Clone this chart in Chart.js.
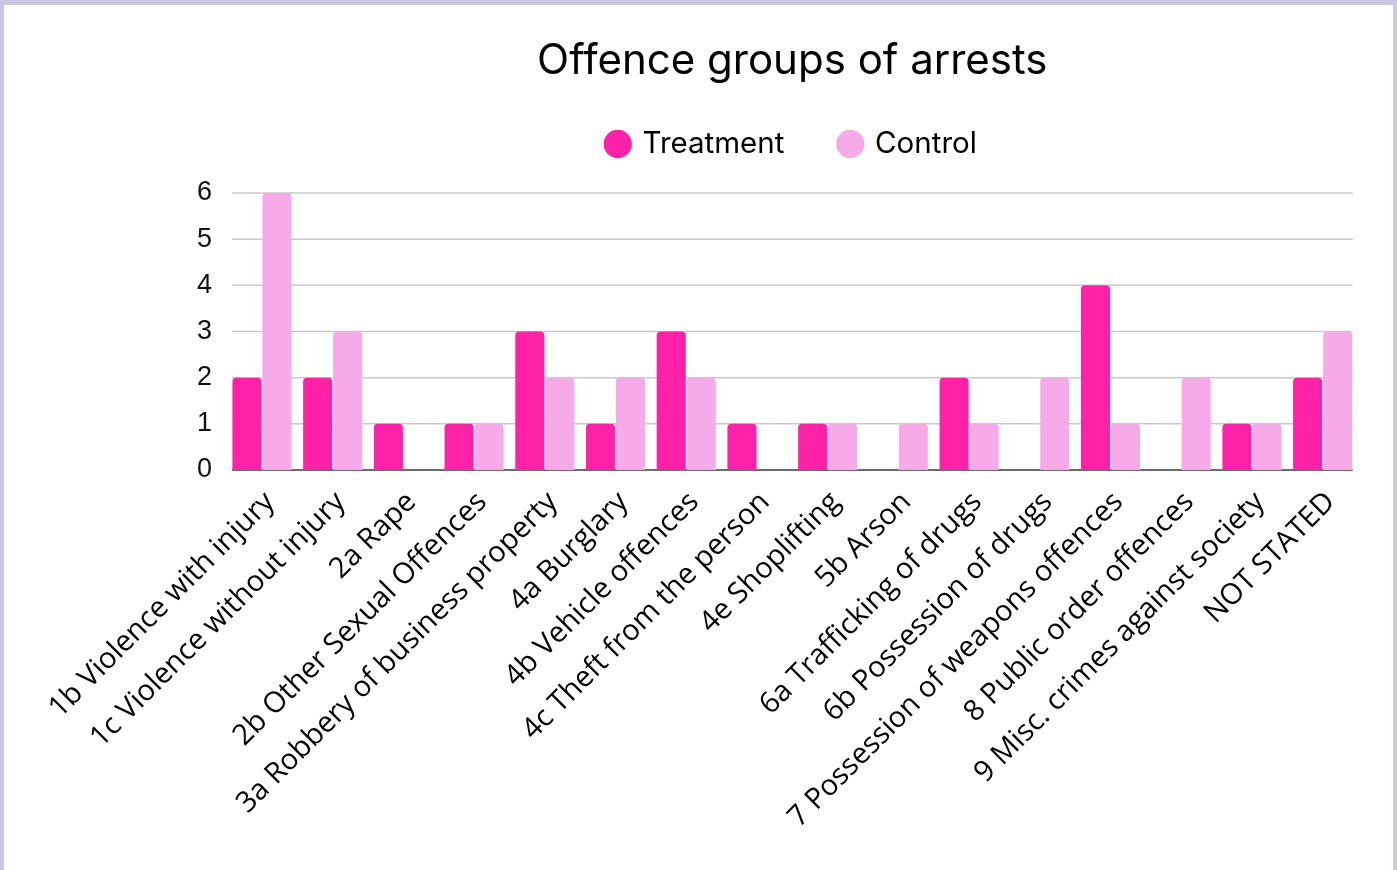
<!DOCTYPE html>
<html>
<head>
<meta charset="utf-8">
<title>Offence groups of arrests</title>
<script src="https://cdn.jsdelivr.net/npm/chart.js@4/dist/chart.umd.min.js"></script>
<style>
  html, body { margin: 0; padding: 0; }
  body { width: 1397px; height: 870px; background: #cbc6e6; position: relative; overflow: hidden; }
  #frame { position: absolute; left: 4px; top: 5px; width: 1389px; height: 865px; background: #ffffff; }
  #frame canvas { display: block; }
</style>
</head>
<body>
<div id="frame"><canvas id="chart"></canvas></div>
<script>
// Offence group categories (x axis)
const categories = [
  '1b Violence with injury',
  '1c Violence without injury',
  '2a Rape',
  '2b Other Sexual Offences',
  '3a Robbery of business property',
  '4a Burglary',
  '4b Vehicle offences',
  '4c Theft from the person',
  '4e Shoplifting',
  '5b Arson',
  '6a Trafficking of drugs',
  '6b Possession of drugs',
  '7 Possession of weapons offences',
  '8 Public order offences',
  '9 Misc. crimes against society',
  'NOT STATED'
];

// Number of arrests per offence group
const treatment = [2, 2, 1, 1, 3, 1, 3, 1, 1, 0, 2, 0, 4, 0, 1, 2];
const control   = [6, 3, 0, 1, 2, 2, 2, 0, 1, 1, 1, 2, 1, 2, 1, 3];

// Y axis range and tick step
const yTicks = { min: 0, max: 6, step: 1 };

const CAT_PCT = 0.848;

// Horizontal grid lines, kept within the span of the bar groups
const gridLines = {
  id: 'gridLines',
  beforeDatasetsDraw(chart) {
    const { ctx, chartArea, scales: { y } } = chart;
    const inset = (chartArea.right - chartArea.left) / categories.length * (1 - CAT_PCT) / 2;
    ctx.save();
    y.ticks.forEach(t => {
      const py = y.getPixelForValue(t.value);
      const zero = t.value === 0;
      ctx.strokeStyle = zero ? '#6b6b6b' : '#c9c9c9';
      ctx.lineWidth = zero ? 2 : 1.5;
      ctx.beginPath();
      ctx.moveTo(chartArea.left + inset, py);
      ctx.lineTo(chartArea.right - inset, py);
      ctx.stroke();
    });
    ctx.restore();
  }
};

// Empty box between the legend and the plot
const legendGap = {
  id: 'legendGap',
  beforeInit(chart) {
    Chart.layouts.addBox(chart, {
      position: 'top', weight: 500, fullSize: false,
      options: {},
      top: 0, left: 0, right: 0, bottom: 0, width: 0, height: 0,
      isHorizontal() { return true; },
      update(maxWidth) { this.width = maxWidth; this.height = 24.25; },
      draw() {}
    });
  }
};

new Chart(document.getElementById('chart'), {
  type: 'bar',
  data: {
    labels: categories,
    datasets: [
      { label: 'Treatment', data: treatment, backgroundColor: '#ff22a8' },
      { label: 'Control', data: control, backgroundColor: '#f6abe8' }
    ]
  },
  options: {
    responsive: true,
    maintainAspectRatio: false,
    animation: false,
    datasets: {
      bar: {
        categoryPercentage: CAT_PCT,
        barPercentage: 0.97,
        borderWidth: 0,
        borderRadius: { topLeft: 4, topRight: 4, bottomLeft: 0, bottomRight: 0 },
        borderSkipped: 'start'
      }
    },
    layout: { padding: { left: 162.6, right: 35, top: 0, bottom: 0 } },
    plugins: {
      title: {
        display: true,
        fullSize: false,
        text: 'Offence groups of arrests',
        color: '#000000',
        font: { family: 'Inter', size: 42, weight: 'normal' },
        padding: { top: 30.8, bottom: -12.95 }
      },
      legend: {
        display: true,
        fullSize: false,
        labels: {
          usePointStyle: true,
          pointStyle: 'circle',
          boxWidth: 20,
          boxHeight: 20,
          padding: 56,
          color: '#000000',
          font: { family: 'Inter', size: 29.5 }
        }
      },
      tooltip: { enabled: false }
    },
    scales: {
      x: {
        grid: { display: false },
        border: { display: false },
        ticks: {
          autoSkip: false,
          minRotation: 45,
          maxRotation: 45,
          padding: 7,
          labelOffset: 8,
          color: '#000000',
          font: { family: 'Open Sans', size: 29 }
        },
        afterFit(scale) { scale.height = 400; }
      },
      y: {
        min: yTicks.min,
        max: yTicks.max,
        grid: { display: false, drawTicks: false },
        border: { display: false },
        ticks: {
          stepSize: yTicks.step,
          padding: 14.6,
          color: '#111111',
          font: { family: 'Liberation Sans', size: 27 }
        },
        afterFit(scale) { scale.width = 60; }
      }
    }
  },
  plugins: [gridLines, legendGap]
});
</script>
</body>
</html>
